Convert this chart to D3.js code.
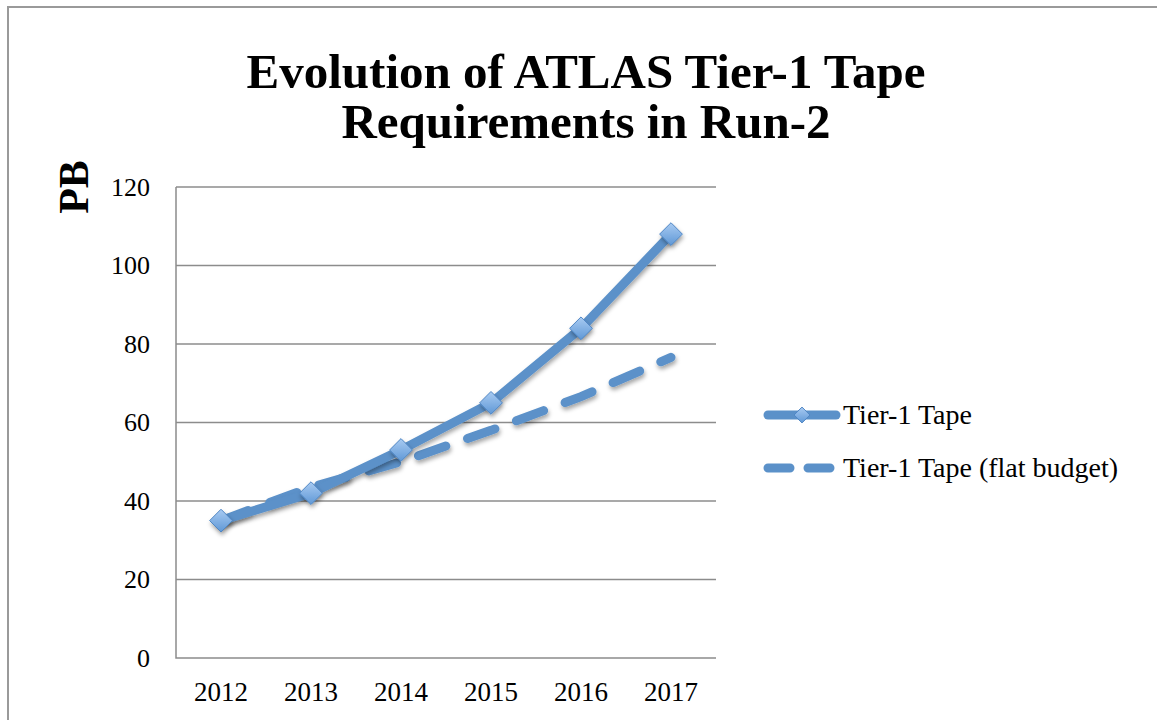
<!DOCTYPE html>
<html>
<head>
<meta charset="utf-8">
<script src="https://cdn.jsdelivr.net/npm/d3@7"></script>
<style>
	body { margin: 0; background: #fff; }
	text { font-family: "Liberation Serif", "DejaVu Serif", serif; fill: #000; }
</style>
</head>
<body>
<svg id="chart" width="1157" height="720"></svg>
<script>
// chart values
const years = ["2012", "2013", "2014", "2015", "2016", "2017"];
const tapeValues = [35, 42, 53, 65, 84, 108];
const flatBudgetValues = [35, 43.5, 50, 58, 66.6, 76.6];
const yTicks = [0, 20, 40, 60, 80, 100, 120];
const seriesNames = ["Tier-1 Tape", "Tier-1 Tape (flat budget)"];
const titleLines = ["Evolution of ATLAS Tier-1 Tape", "Requirements in Run-2"];

const lineColor = "#5b91c9";

function whenDocumentLoaded(action) {
	if (document.readyState === "loading") {
		document.addEventListener("DOMContentLoaded", action);
	} else {
		action();
	}
}

whenDocumentLoaded(() => {
	const svg = d3.select("#chart");
	const plot = { left: 176, right: 716, top: 187, bottom: 658 };

	// outer frame (runs off the right and bottom edges)
	svg.append("path")
		.attr("d", "M8,1000 L8,7 L1200,7")
		.attr("fill", "none")
		.attr("stroke", "#9a9a9a")
		.attr("stroke-width", 2);

	// title
	svg.selectAll(".title")
		.data(titleLines)
		.enter().append("text")
		.attr("class", "title")
		.attr("x", 586)
		.attr("y", (d, i) => 88 + i * 50)
		.attr("text-anchor", "middle")
		.style("font-size", "49px")
		.style("font-weight", "bold")
		.text(d => d);

	// y axis label
	svg.append("text")
		.attr("transform", "translate(88,187) rotate(-90)")
		.attr("text-anchor", "middle")
		.style("font-size", "42px")
		.style("font-weight", "bold")
		.text("PB");

	const x = d3.scaleBand()
		.domain(years)
		.range([plot.left, plot.right]);

	const y = d3.scaleLinear()
		.domain([0, 120])
		.range([plot.bottom, plot.top]);

	// gridlines
	svg.append("g")
		.selectAll("line")
		.data(yTicks.filter(d => d > 0))
		.enter().append("line")
		.attr("x1", plot.left)
		.attr("x2", plot.right)
		.attr("y1", d => y(d))
		.attr("y2", d => y(d))
		.attr("stroke", "#8c8c8c")
		.attr("stroke-width", 1.5);

	// axis lines
	svg.append("path")
		.attr("d", `M${plot.left},${plot.top} L${plot.left},${plot.bottom} L${plot.right},${plot.bottom}`)
		.attr("fill", "none")
		.attr("stroke", "#8c8c8c")
		.attr("stroke-width", 1.5);

	// y tick labels
	const yAxis = svg.append("g")
		.attr("transform", `translate(${plot.left},0)`)
		.call(d3.axisLeft(y).tickValues(yTicks).tickSize(0).tickPadding(26));
	yAxis.select(".domain").remove();
	yAxis.selectAll("text")
		.style("font-family", "'Liberation Serif', serif")
		.style("font-size", "26px")
		.attr("fill", "#000");

	// x tick labels
	const xAxis = svg.append("g")
		.attr("transform", `translate(0,${plot.bottom})`)
		.call(d3.axisBottom(x).tickSize(0).tickPadding(24));
	xAxis.select(".domain").remove();
	xAxis.selectAll("text")
		.style("font-family", "'Liberation Serif', serif")
		.style("font-size", "27px")
		.attr("fill", "#000");

	const defs = svg.append("defs");
	const grad = defs.append("linearGradient")
		.attr("id", "markerFill")
		.attr("x1", "0%").attr("y1", "0%")
		.attr("x2", "0%").attr("y2", "100%");
	grad.append("stop").attr("offset", "0%").attr("stop-color", "#a9cbf2");
	grad.append("stop").attr("offset", "100%").attr("stop-color", "#5f98d6");

	const shadow = defs.append("filter")
		.attr("id", "shadow")
		.attr("x", "-50%").attr("y", "-50%")
		.attr("width", "200%").attr("height", "200%");
	shadow.append("feDropShadow")
		.attr("dx", 1).attr("dy", 3)
		.attr("stdDeviation", 2)
		.attr("flood-color", "#000")
		.attr("flood-opacity", 0.35);

	const line = d3.line()
		.x((d, i) => x(years[i]) + x.bandwidth() / 2)
		.y(d => y(d));

	// flat budget (dashed)
	svg.append("path")
		.datum(flatBudgetValues)
		.attr("d", line)
		.attr("fill", "none")
		.attr("stroke", lineColor)
		.attr("stroke-width", 9)
		.attr("stroke-linecap", "round")
		.attr("stroke-dasharray", "29,23")
		.attr("filter", "url(#shadow)");

	// tape requirements (solid)
	svg.append("path")
		.datum(tapeValues)
		.attr("d", line)
		.attr("fill", "none")
		.attr("stroke", lineColor)
		.attr("stroke-width", 9)
		.attr("stroke-linejoin", "round")
		.attr("stroke-linecap", "round")
		.attr("filter", "url(#shadow)");

	const diamond = d3.symbol().type(d3.symbolDiamond2).size(330);

	svg.append("g")
		.selectAll("path")
		.data(tapeValues)
		.enter().append("path")
		.attr("d", diamond)
		.attr("transform", (d, i) => `translate(${x(years[i]) + x.bandwidth() / 2},${y(d)})`)
		.attr("fill", "url(#markerFill)")
		.attr("stroke", "#4f86c4")
		.attr("stroke-width", 1)
		.attr("filter", "url(#shadow)");

	// legend
	const legend = svg.append("g");
	const rows = [415, 468];

	legend.append("line")
		.attr("x1", 768).attr("x2", 836)
		.attr("y1", rows[0]).attr("y2", rows[0])
		.attr("stroke", lineColor)
		.attr("stroke-width", 9)
		.attr("stroke-linecap", "round");
	legend.append("path")
		.attr("d", d3.symbol().type(d3.symbolDiamond2).size(160))
		.attr("transform", `translate(802,${rows[0]})`)
		.attr("fill", "url(#markerFill)")
		.attr("stroke", "#4f86c4")
		.attr("stroke-width", 1);

	legend.append("line")
		.attr("x1", 768).attr("x2", 836)
		.attr("y1", rows[1]).attr("y2", rows[1])
		.attr("stroke", lineColor)
		.attr("stroke-width", 9)
		.attr("stroke-linecap", "round")
		.attr("stroke-dasharray", "22,18");

	legend.selectAll("text")
		.data(seriesNames)
		.enter().append("text")
		.attr("x", 843)
		.attr("y", (d, i) => rows[i] + 9)
		.style("font-size", "28px")
		.text(d => d);
});
</script>
</body>
</html>
